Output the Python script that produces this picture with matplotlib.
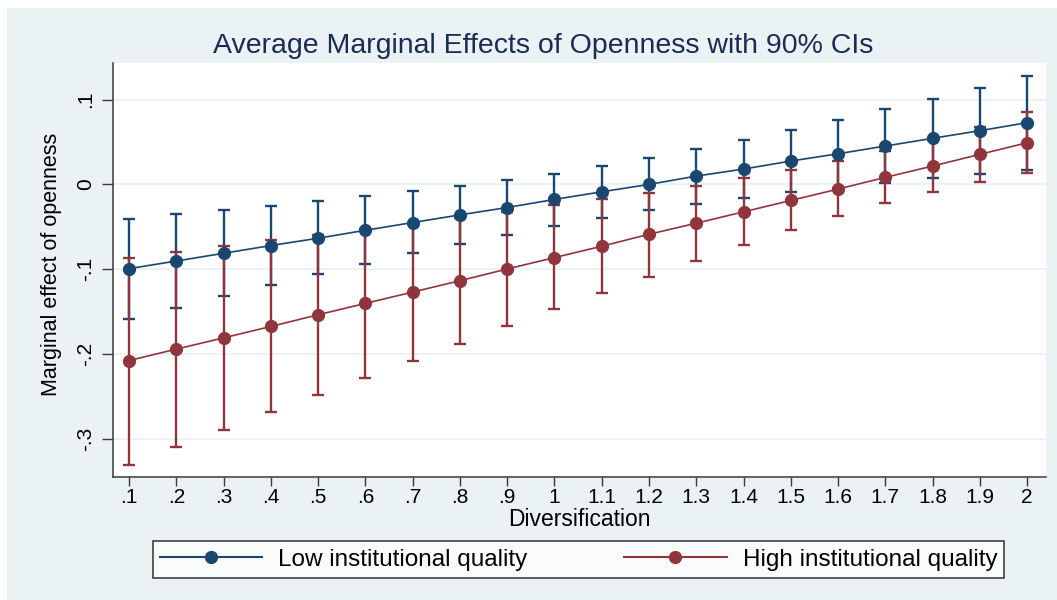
import numpy as np
import matplotlib
matplotlib.use("Agg")
import matplotlib.pyplot as plt
from matplotlib.patches import Rectangle
from matplotlib.lines import Line2D

plt.rcParams['font.family'] = ['Liberation Sans', 'DejaVu Sans']

diversification = [0.1, 0.2, 0.3, 0.4, 0.5, 0.6, 0.7, 0.8, 0.9, 1.0,
                   1.1, 1.2, 1.3, 1.4, 1.5, 1.6, 1.7, 1.8, 1.9, 2.0]
xtick_labels = ['.1', '.2', '.3', '.4', '.5', '.6', '.7', '.8', '.9', '1',
                '1.1', '1.2', '1.3', '1.4', '1.5', '1.6', '1.7', '1.8', '1.9', '2']

low_me = [-0.0992, -0.0902, -0.0811, -0.0720, -0.0634, -0.0540, -0.0449, -0.0359, -0.0272, -0.0177,
          -0.0087, 0.0000, 0.0098, 0.0181, 0.0275, 0.0361, 0.0452, 0.0543, 0.0633, 0.0727]
low_upper = [-0.0408, -0.0354, -0.0303, -0.0253, -0.0201, -0.0142, -0.0083, -0.0020, 0.0051, 0.0125,
             0.0216, 0.0310, 0.0413, 0.0523, 0.0641, 0.0759, 0.0889, 0.1011, 0.1140, 0.1282]
low_lower = [-0.1587, -0.1450, -0.1320, -0.1185, -0.1060, -0.0937, -0.0811, -0.0701, -0.0590, -0.0489,
             -0.0394, -0.0307, -0.0229, -0.0158, -0.0094, -0.0040, 0.0015, 0.0071, 0.0118, 0.0173]

high_me = [-0.2074, -0.1940, -0.1807, -0.1673, -0.1535, -0.1401, -0.1268, -0.1134, -0.0996, -0.0862,
           -0.0728, -0.0587, -0.0457, -0.0323, -0.0189, -0.0055, 0.0083, 0.0216, 0.0354, 0.0491]
high_upper = [-0.0862, -0.0800, -0.0728, -0.0658, -0.0595, -0.0530, -0.0460, -0.0390, -0.0323, -0.0244,
              -0.0177, -0.0099, -0.0020, 0.0071, 0.0165, 0.0272, 0.0393, 0.0520, 0.0680, 0.0850]
high_lower = [-0.3299, -0.3090, -0.2890, -0.2684, -0.2479, -0.2283, -0.2074, -0.1877, -0.1673, -0.1472,
              -0.1280, -0.1086, -0.0897, -0.0713, -0.0540, -0.0370, -0.0217, -0.0091, 0.0027, 0.0130]

yticks = [0.1, 0, -0.1, -0.2, -0.3]
ytick_labels = ['.1', '0', '-.1', '-.2', '-.3']

NAVY = '#1a476f'
MAROON = '#90353b'
BG = '#eaf2f3'

fig = plt.figure(figsize=(10.57, 6), dpi=100, facecolor='white')
fig.patches.append(Rectangle((7 / 1057, 0), 1, 592 / 600, transform=fig.transFigure,
                             facecolor=BG, edgecolor='none', zorder=-10))

ax = fig.add_axes([113 / 1057, 1 - 476.5 / 600, 933 / 1057, 413.5 / 600])
ax.set_facecolor('white')

x = np.array(diversification)
for me, lo, hi, col in [(low_me, low_lower, low_upper, NAVY),
                        (high_me, high_lower, high_upper, MAROON)]:
    me, lo, hi = np.array(me), np.array(lo), np.array(hi)
    ax.errorbar(x, me, yerr=[me - lo, hi - me], fmt='none', ecolor=col,
                elinewidth=1.7, capsize=4.6, capthick=1.7, zorder=2)

ax.plot(x, low_me, '-o', color=NAVY, lw=1.2, ms=8.5, zorder=3)
ax.plot(x, high_me, '-o', color=MAROON, lw=1.2, ms=8.5, zorder=3)

ax.set_xlim(0.066, 2.04)
ax.set_ylim(-0.344, 0.143)
ax.set_xticks(x)
ax.set_xticklabels(xtick_labels, fontsize=15)
ax.set_yticks(yticks)
ax.set_yticklabels(ytick_labels, fontsize=15, rotation=90, va='center')

ax.grid(axis='y', color=BG, lw=1.3, zorder=0)
ax.set_axisbelow(True)
for s in ['top', 'right']:
    ax.spines[s].set_visible(False)
for s in ['left', 'bottom']:
    ax.spines[s].set_color('#3a3a3a')
    ax.spines[s].set_linewidth(1.1)
ax.tick_params(axis='x', length=6.5, width=1.0, color='#3a3a3a', pad=2)
ax.tick_params(axis='y', length=8, width=1.0, color='#3a3a3a', pad=5)

fig.text(543 / 1057, 1 - 53 / 600, 'Average Marginal Effects of Openness with 90% CIs',
         ha='center', va='baseline', fontsize=20.5, color='#1c2b55')
fig.text(579 / 1057, 1 - 526 / 600, 'Diversification', ha='center', va='baseline', fontsize=16.5)
fig.text(52 / 1057, 1 - 264 / 600, 'Marginal effect of openness', ha='center', va='center',
         rotation=90, fontsize=15.5)

handles = [Line2D([], [], color=NAVY, lw=1.5, marker='o', ms=8.5),
           Line2D([], [], color=MAROON, lw=1.5, marker='o', ms=8.5)]
leg = fig.legend(handles, ['Low institutional quality', 'High institutional quality'],
                 loc='center', bbox_to_anchor=(578.5 / 1057, 1 - 559.7 / 600), ncol=2,
                 fontsize=17.5, frameon=True, fancybox=False, edgecolor='black',
                 handlelength=4.2, handletextpad=0.66, columnspacing=4.0, borderpad=0.3)
leg.get_frame().set_linewidth(1.1)
leg.get_frame().set_facecolor('white')

fig.savefig('out.png', dpi=100, facecolor=fig.get_facecolor())
